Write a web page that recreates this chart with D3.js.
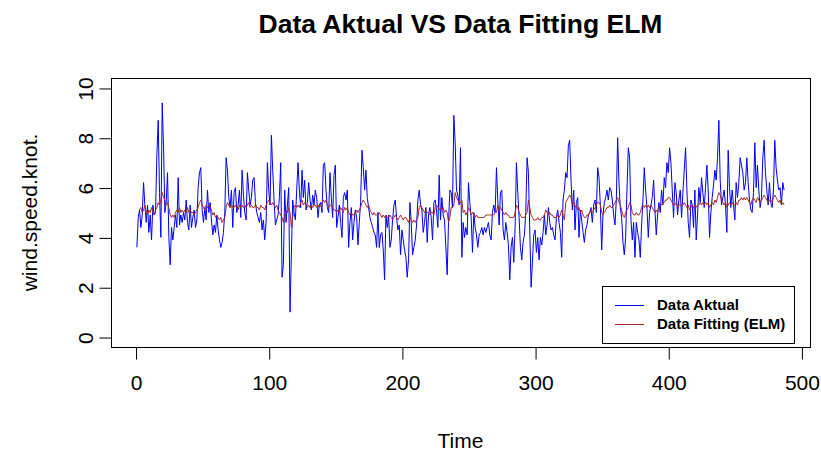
<!DOCTYPE html>
<html>
<head>
<meta charset="utf-8">
<script src="https://cdn.jsdelivr.net/npm/d3@7"></script>
<style>
  html, body { margin: 0; padding: 0; background: #ffffff; }
  svg { display: block; font-family: "Liberation Sans", Arial, sans-serif; }
</style>
</head>
<body>
<svg id="chart" width="821" height="452"></svg>
<script>
// Observed wind speed (knots), one value per time step starting at t = 1
const actual = [
  3.6, 4.8, 5.1, 4.4, 4.9, 6.2, 5.3, 4.6, 5.3, 4.2,
  4.9, 3.9, 5.3, 4.9, 5.0, 7.3, 8.7, 5.8, 4.0, 9.4,
  7.7, 5.0, 5.4, 6.6, 4.0, 2.9, 4.4, 3.9, 4.4, 4.9,
  4.4, 6.4, 4.5, 4.9, 4.6, 5.0, 4.7, 5.5, 4.6, 4.3,
  5.3, 4.4, 4.8, 5.1, 4.4, 4.7, 6.0, 6.6, 6.8, 5.1,
  4.6, 5.2, 4.7, 5.9, 5.0, 5.4, 4.7, 4.1, 4.5, 4.2,
  4.9, 4.3, 3.9, 3.6, 3.8, 4.2, 5.0, 7.2, 6.7, 5.6,
  5.2, 5.9, 4.4, 5.8, 6.0, 5.0, 5.3, 5.9, 4.8, 6.7,
  5.7, 5.0, 4.7, 6.6, 5.9, 5.3, 5.6, 6.3, 6.4, 5.4,
  5.0, 4.8, 4.6, 5.0, 4.3, 4.7, 3.9, 4.6, 7.0, 5.9,
  5.3, 8.1, 6.7, 5.5, 4.5, 4.7, 4.9, 5.6, 7.0, 2.4,
  2.9, 5.9, 4.6, 5.3, 6.0, 1.0, 3.3, 5.5, 5.0, 4.7,
  5.9, 7.0, 5.9, 5.2, 6.7, 5.6, 6.3, 5.1, 5.4, 6.2,
  5.5, 5.1, 5.7, 5.3, 5.9, 5.6, 4.8, 5.3, 5.4, 5.0,
  6.9, 7.0, 5.9, 5.2, 5.0, 6.6, 5.6, 4.8, 6.5, 6.9,
  4.4, 4.8, 5.3, 4.6, 4.0, 5.6, 5.8, 5.5, 5.9, 3.6,
  4.6, 5.2, 3.9, 4.6, 5.1, 4.8, 3.7, 4.6, 5.4, 7.5,
  6.8, 5.9, 6.7, 5.6, 5.2, 4.8, 4.6, 4.4, 4.2, 4.1,
  3.6, 5.0, 3.6, 4.1, 4.2, 3.5, 2.3, 4.9, 4.4, 4.9,
  3.6, 3.9, 4.7, 5.3, 5.5, 4.8, 4.3, 4.5, 3.3, 4.3,
  3.9, 3.5, 3.2, 2.4, 3.1, 5.4, 4.6, 3.3, 3.6, 3.9,
  4.5, 5.5, 5.9, 5.3, 5.1, 4.2, 4.6, 5.2, 3.8, 4.9,
  5.2, 4.8, 3.9, 5.4, 5.5, 5.1, 4.4, 6.5, 4.7, 5.6,
  4.9, 4.7, 3.6, 2.5, 4.6, 5.9, 5.8, 5.2, 8.9, 7.8,
  5.9, 5.7, 5.3, 7.6, 3.2, 4.6, 4.0, 4.4, 4.1, 6.2,
  5.4, 4.8, 3.4, 5.0, 4.4, 4.1, 3.6, 4.1, 4.2, 4.4,
  4.1, 4.4, 4.2, 4.4, 4.6, 4.1, 3.9, 5.0, 5.3, 5.0,
  6.8, 5.5, 4.5, 5.8, 5.9, 4.3, 3.9, 4.6, 4.2, 3.7,
  2.3, 3.6, 4.0, 3.0, 4.4, 7.0, 5.8, 4.8, 3.6, 3.1,
  3.8, 4.1, 5.0, 7.2, 6.6, 4.3, 2.0, 3.0, 4.1, 4.3,
  3.4, 4.0, 3.1, 4.0, 3.7, 4.2, 4.9, 4.1, 4.5, 5.2,
  4.6, 4.3, 4.4, 4.1, 3.9, 4.8, 5.1, 4.6, 4.2, 3.2,
  5.5, 5.9, 6.6, 6.4, 7.7, 7.9, 6.3, 5.1, 5.9, 4.3,
  5.4, 5.6, 4.0, 5.1, 4.7, 4.2, 3.8, 4.3, 4.5, 4.9,
  5.0, 5.2, 4.6, 5.3, 5.5, 5.0, 6.8, 6.4, 5.3, 3.5,
  4.9, 5.4, 5.6, 5.9, 5.5, 6.0, 5.9, 5.5, 4.9, 4.5,
  5.5, 8.0, 6.2, 5.2, 4.8, 3.8, 3.3, 4.0, 5.9, 7.6,
  7.2, 4.7, 3.9, 4.6, 3.2, 4.6, 4.2, 3.9, 3.2, 4.5,
  5.5, 6.8, 5.9, 5.2, 4.0, 5.0, 5.3, 5.6, 6.3, 5.1,
  4.1, 4.9, 5.4, 5.0, 5.9, 5.3, 6.4, 6.0, 7.0, 6.6,
  7.6, 7.0, 5.9, 4.8, 6.2, 5.8, 4.9, 5.5, 5.9, 4.8,
  5.8, 6.7, 7.6, 5.9, 4.6, 4.0, 5.5, 5.3, 4.4, 5.9,
  3.9, 4.9, 6.0, 5.4, 6.4, 5.8, 5.2, 6.0, 6.9, 5.9,
  4.0, 5.0, 5.6, 6.1, 6.7, 6.3, 7.2, 8.7, 6.3, 5.3,
  5.6, 5.9, 5.3, 4.2, 7.5, 6.0, 5.2, 5.9, 5.3, 4.7,
  6.2, 5.6, 6.2, 7.2, 6.9, 6.6, 5.9, 6.2, 7.2, 6.2,
  5.5, 5.1, 5.0, 5.8, 7.8, 6.0, 6.9, 5.9, 5.2, 5.6,
  7.2, 7.9, 6.6, 5.9, 5.3, 6.2, 5.4, 5.2, 5.9, 7.9,
  6.8, 6.3, 5.9, 6.0, 5.3, 6.2, 5.9
];

// ELM fitted values; the model needs two lags, so the fit starts at t = 3
const fittedStart = 3;
const fitted = [
  5.1, 5.2, 5.0, 5.1, 5.3, 5.0, 4.9,
  5.1, 5.0, 5.2, 5.0, 4.9, 5.1, 5.2, 5.4, 5.3, 5.5,
  5.8, 5.6, 5.5, 5.3, 5.4, 5.2, 4.9, 4.8, 4.9, 4.8,
  5.0, 5.1, 5.0, 5.2, 5.0, 5.1, 5.0, 5.1, 5.0, 5.2,
  5.0, 5.1, 5.0, 5.0, 4.9, 5.0, 5.1, 5.2, 5.4, 5.5,
  5.3, 5.2, 5.1, 5.3, 5.2, 5.3, 5.2, 5.1, 4.9, 5.0,
  4.8, 4.9, 4.8, 4.7, 4.8, 4.6, 4.7, 4.8, 5.2, 5.4,
  5.3, 5.2, 5.3, 5.2, 5.2, 5.3, 5.2, 5.1, 5.3, 5.2,
  5.3, 5.2, 5.3, 5.2, 5.3, 5.4, 5.2, 5.3, 5.2, 5.2,
  5.3, 5.2, 5.2, 5.1, 5.3, 5.2, 5.2, 5.1, 5.3, 5.4,
  5.5, 5.4, 5.3, 5.4, 5.3, 5.2, 5.3, 5.1, 5.0, 4.9,
  4.8, 4.6, 4.9, 5.1, 5.0, 5.2, 5.0, 4.4, 4.8, 5.2,
  5.3, 5.2, 5.3, 5.2, 5.4, 5.5, 5.3, 5.4, 5.3, 5.2,
  5.3, 5.2, 5.3, 5.2, 5.3, 5.3, 5.2, 5.3, 5.2, 5.3,
  5.4, 5.5, 5.4, 5.5, 5.3, 5.2, 5.3, 5.3, 5.2, 5.1,
  5.1, 5.0, 5.1, 5.0, 5.2, 5.1, 5.0, 5.2, 5.1, 5.2,
  5.0, 4.9, 5.0, 4.9, 4.9, 5.0, 5.1, 5.0, 5.1, 5.2,
  5.4, 5.5, 5.4, 5.3, 5.2, 5.3, 5.1, 5.0, 4.9, 5.0,
  4.9, 4.9, 4.9, 5.0, 4.9, 4.8, 4.9, 4.8, 4.9, 4.8,
  4.8, 4.9, 4.8, 4.7, 4.8, 4.9, 4.8, 4.7, 4.8, 4.9,
  4.8, 4.7, 4.8, 4.8, 4.7, 4.6, 4.8, 4.7, 4.6, 4.7,
  4.6, 4.7, 4.8, 5.2, 5.3, 5.2, 5.1, 5.0, 5.1, 5.0,
  5.0, 4.9, 5.0, 5.0, 4.9, 5.2, 5.3, 5.2, 5.1, 5.2,
  5.1, 5.2, 5.0, 5.1, 5.0, 4.6, 4.8, 5.2, 5.2, 5.3,
  5.8, 5.6, 5.5, 5.4, 5.4, 5.5, 5.0, 5.1, 4.9, 5.0,
  5.2, 5.1, 4.9, 5.0, 4.9, 4.8, 4.9, 4.8, 4.8, 4.8,
  4.8, 4.8, 4.8, 4.9, 4.9, 4.9, 4.9, 4.9, 4.9, 4.9,
  5.0, 5.0, 5.3, 5.1, 5.2, 5.1, 5.0, 4.9, 5.0, 4.9,
  4.9, 4.8, 4.8, 4.8, 4.8, 5.0, 5.3, 5.2, 5.0, 4.9,
  4.8, 4.8, 4.8, 4.9, 5.0, 5.5, 5.2, 4.9, 4.8, 4.7,
  4.7, 4.7, 4.8, 4.7, 4.7, 4.8, 4.8, 4.9, 5.1, 5.0,
  4.9, 5.0, 4.9, 4.9, 4.8, 4.8, 4.8, 4.9, 4.8, 4.9,
  5.1, 4.9, 4.7, 5.4, 5.5, 5.6, 5.7, 5.6, 5.3, 5.4,
  5.2, 5.3, 5.1, 5.2, 5.0, 5.1, 4.9, 4.8, 4.8, 4.9,
  4.9, 5.0, 5.1, 5.0, 5.1, 5.2, 5.3, 5.4, 5.4, 5.3,
  5.0, 4.9, 5.0, 5.1, 5.2, 5.2, 5.3, 5.2, 5.2, 5.3,
  5.4, 5.5, 5.6, 5.4, 5.3, 5.1, 4.9, 4.8, 5.0, 5.1,
  5.2, 5.4, 5.3, 5.0, 4.9, 4.9, 5.0, 4.9, 4.9, 5.0,
  5.2, 5.3, 5.2, 5.3, 5.2, 5.3, 5.2, 5.3, 5.2, 5.1,
  5.0, 5.1, 5.0, 5.2, 5.3, 5.3, 5.4, 5.4, 5.5, 5.5,
  5.6, 5.6, 5.5, 5.4, 5.3, 5.3, 5.4, 5.2, 5.3, 5.3,
  5.3, 5.3, 5.4, 5.3, 5.2, 5.3, 5.1, 5.2, 5.3, 5.2,
  5.3, 5.2, 5.3, 5.3, 5.4, 5.3, 5.4, 5.3, 5.4, 5.3,
  5.4, 5.2, 5.3, 5.4, 5.3, 5.5, 5.4, 5.6, 5.8, 5.7,
  5.5, 5.4, 5.3, 5.4, 5.2, 5.3, 5.4, 5.3, 5.4, 5.3,
  5.3, 5.4, 5.3, 5.5, 5.5, 5.6, 5.5, 5.6, 5.5, 5.6,
  5.5, 5.4, 5.3, 5.5, 5.6, 5.5, 5.4, 5.6, 5.5, 5.4,
  5.5, 5.6, 5.7, 5.6, 5.5, 5.4, 5.5, 5.5, 5.4, 5.6,
  5.7, 5.6, 5.5, 5.4, 5.5, 5.3, 5.4, 5.3
];

const xTicks = [0, 100, 200, 300, 400, 500];
const yTicks = [0, 2, 4, 6, 8, 10];
const seriesNames = ["Data Aktual", "Data Fitting (ELM)"];
const seriesColors = ["#0000ff", "#a52a2a"];

const svg = d3.select("#chart");
const box = { left: 111, right: 810, top: 78, bottom: 347 };

// R-style 4% padding around the time range; fixed 0..10 y-limits
const n = actual.length;
const pad = 0.04 * (n - 1);
const x = d3.scaleLinear().domain([1 - pad, n + pad]).range([box.left, box.right]);
const y = d3.scaleLinear().domain([-0.4, 10.4]).range([box.bottom, box.top]);

const actualPts = actual.map((v, i) => [i + 1, v]);
const fittedPts = fitted.map((v, i) => [i + fittedStart, v]);

const line = d3.line().x(d => x(d[0])).y(d => y(d[1]));

svg.append("path").datum(actualPts)
  .attr("d", line).attr("fill", "none")
  .attr("stroke", seriesColors[0]).attr("stroke-width", 1);

svg.append("path").datum(fittedPts)
  .attr("d", line).attr("fill", "none")
  .attr("stroke", seriesColors[1]).attr("stroke-width", 1);

// plot frame
svg.append("rect")
  .attr("x", box.left + 0.5).attr("y", box.top + 0.5)
  .attr("width", box.right - box.left).attr("height", box.bottom - box.top)
  .attr("fill", "none").attr("stroke", "#000").attr("stroke-width", 1);

// x axis
const gx = svg.append("g")
  .attr("transform", `translate(0.5,${box.bottom + 0.5})`)
  .call(d3.axisBottom(x).tickValues(xTicks).tickSize(12).tickSizeOuter(0).tickPadding(16));
gx.select(".domain").remove();
gx.selectAll(".tick line").attr("stroke", "#000");
gx.selectAll(".tick text")
  .attr("font-size", 21).attr("fill", "#000")
  .attr("font-family", "Liberation Sans, Arial, sans-serif");

// y axis, labels parallel to the axis
const gy = svg.append("g")
  .attr("transform", `translate(${box.left + 0.5},0.5)`)
  .call(d3.axisLeft(y).tickValues(yTicks).tickSize(12).tickSizeOuter(0));
gy.select(".domain").remove();
gy.selectAll(".tick line").attr("stroke", "#000");
gy.selectAll(".tick text")
  .attr("font-size", 21).attr("fill", "#000")
  .attr("font-family", "Liberation Sans, Arial, sans-serif")
  .attr("text-anchor", "middle")
  .attr("x", null).attr("dy", null)
  .attr("transform", "translate(-19,0) rotate(-90)");

// titles
svg.append("text")
  .attr("x", (box.left + box.right) / 2).attr("y", 33)
  .attr("text-anchor", "middle").attr("font-size", 26.5).attr("font-weight", "bold")
  .text("Data Aktual VS Data Fitting ELM");

svg.append("text")
  .attr("x", (box.left + box.right) / 2).attr("y", 448)
  .attr("text-anchor", "middle").attr("font-size", 21)
  .text("Time");

svg.append("text")
  .attr("transform", `translate(37,${(box.top + box.bottom) / 2}) rotate(-90)`)
  .attr("text-anchor", "middle").attr("font-size", 21)
  .text("wind.speed.knot.");

// legend
const lg = svg.append("g");
lg.append("rect")
  .attr("x", 602.5).attr("y", 286.5).attr("width", 192).attr("height", 57)
  .attr("fill", "#fff").attr("stroke", "#000").attr("stroke-width", 1);
seriesNames.forEach((name, i) => {
  const ly = 305 + i * 19;
  lg.append("line")
    .attr("x1", 615).attr("x2", 644).attr("y1", ly + 0.5).attr("y2", ly + 0.5)
    .attr("stroke", seriesColors[i]).attr("stroke-width", 1);
  lg.append("text")
    .attr("x", 657).attr("y", ly + 5)
    .attr("font-size", 15).attr("font-weight", "bold")
    .text(name);
});
</script>
</body>
</html>
